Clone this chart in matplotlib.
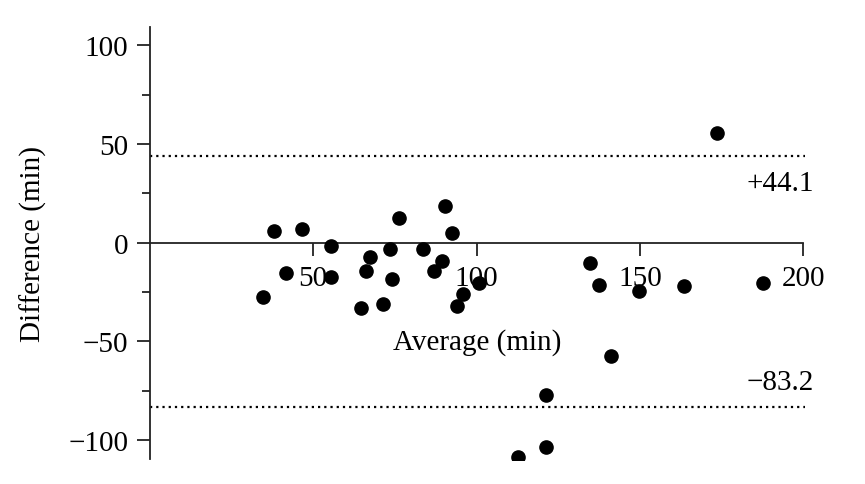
import matplotlib.pyplot as plt
import numpy as np

plt.rcParams['font.family'] = ['Liberation Serif', 'DejaVu Serif']
plt.rcParams['axes.unicode_minus'] = True

# Bland-Altman data
average = [34.8, 38.1, 41.6, 46.5, 55.5, 55.5, 64.6, 66.1, 67.5, 71.5,
           73.4, 74.1, 76.4, 83.5, 87.0, 89.4, 90.5, 92.5, 100.9, 96.0,
           93.9, 134.8, 137.4, 149.7, 163.6, 187.7, 173.7, 141.2, 121.3,
           121.3, 112.8]
difference = [-27.3, 5.8, -15.3, 6.9, -1.5, -17.2, -33.2, -14.3, -7.4, -31.2,
              -3.2, -18.4, 12.7, -3.4, -14.2, -9.4, 18.7, 4.9, -20.3, -26.1,
              -32.1, -10.3, -21.3, -24.3, -22.1, -20.4, 55.7, -57.4, -77.3,
              -103.3, -108.4]
upper_loa = 44.1
lower_loa = -83.2
x_ticks = [50, 100, 150, 200]
y_ticks = [-100, -50, 0, 50, 100]
y_minor = [-75, -25, 25, 75]

fs = 21

fig = plt.figure(figsize=(8.65, 4.85), dpi=100)
ax = fig.add_axes([0.1731, 0.0496, 0.7934, 0.8959])

ax.plot(average, difference, 'o', color='black', ms=9.5, zorder=3)

# limits of agreement
ax.hlines([upper_loa, lower_loa], 0, 200.5, colors='black', lw=1.6,
          linestyles=[(0, (1, 1.8))])
ax.text(203.3, 30.4, '+%.1f' % upper_loa, ha='right', va='center', fontsize=fs)
ax.text(203.3, -70.7, '\u2212%.1f' % abs(lower_loa), ha='right', va='center', fontsize=fs)

ax.set_xlim(0, 210)
ax.set_ylim(-110, 110)

for s in ['top', 'right']:
    ax.spines[s].set_visible(False)
ax.spines['bottom'].set_position(('data', 0))
ax.spines['bottom'].set_bounds(0, 200)
ax.spines['left'].set_bounds(-109.5, 109.2)
for s in ['left', 'bottom']:
    ax.spines[s].set_linewidth(1.3)
    ax.spines[s].set_color('#222222')

ax.set_xticks(x_ticks)
ax.set_yticks(y_ticks)
ax.set_yticks(y_minor, minor=True)
ax.set_yticklabels(['\u2212100', '\u221250', '0', '50', '100'])
ax.tick_params(axis='both', which='major', length=9.4, width=1.3,
               labelsize=fs, color='#222222')
ax.tick_params(axis='y', which='major', pad=6)
ax.tick_params(axis='x', which='major', pad=7)
ax.tick_params(axis='y', which='minor', length=5.8, width=1.3, color='#222222')

ax.set_xlabel('Average (min)', fontsize=fs)
ax.xaxis.label.set_va('center')
ax.xaxis.set_label_coords(0.4765, 0.2715)
ax.set_ylabel('Difference (min)', fontsize=fs)
ax.yaxis.label.set_va('center')
ax.yaxis.set_label_coords(-0.170, 0.5)

fig.savefig('out.png', dpi=100)
